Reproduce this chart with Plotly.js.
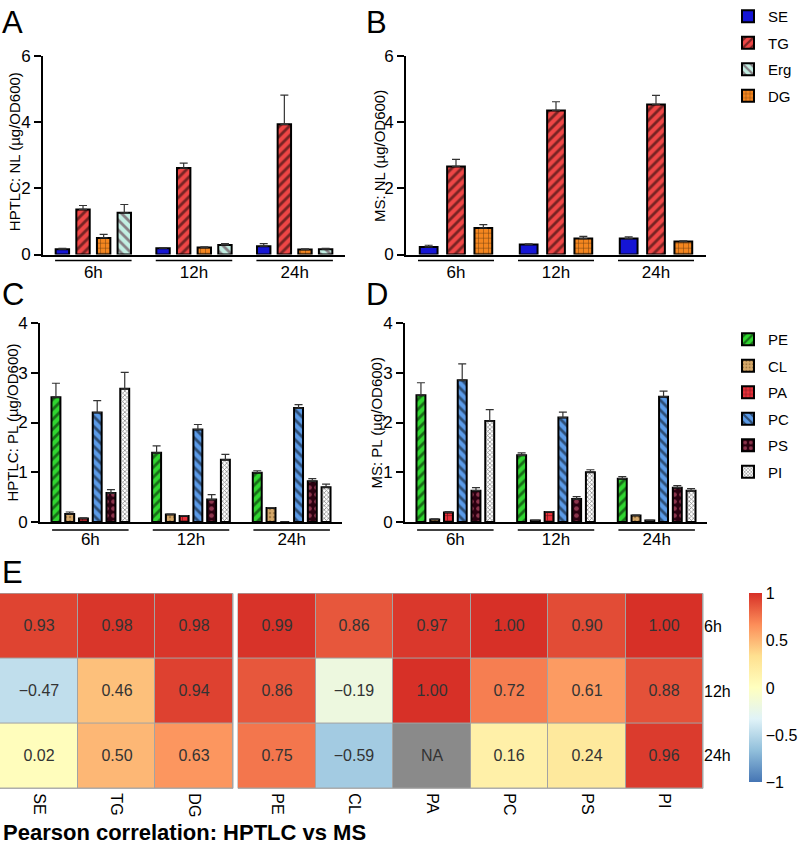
<!DOCTYPE html>
<html>
<head>
<meta charset="utf-8">
<script src="https://cdn.plot.ly/plotly-3.0.1.min.js"></script>
<style>
  html, body { margin: 0; padding: 0; background: #fff; }
  #chart { width: 800px; height: 849px; }
</style>
</head>
<body>
<div id="chart"></div>
<script>
// time points shared by every panel
var timepoints = ['6h', '12h', '24h'];

// A: neutral lipids by HPTLC (mean, sd)
var hptlcSE = [0.16, 0.19, 0.25],  hptlcSEerr = [0.03, 0.02, 0.08];
var hptlcTG = [1.36, 2.61, 3.93],  hptlcTGerr = [0.12, 0.15, 0.88];
var hptlcDG = [0.50, 0.21, 0.15],  hptlcDGerr = [0.11, 0.02, 0.02];
var hptlcErg = [1.26, 0.29, 0.16], hptlcErgerr = [0.25, 0.04, 0.03];

// B: neutral lipids by MS
var msSE = [0.23, 0.30, 0.48], msSEerr = [0.05, 0.02, 0.05];
var msTG = [2.66, 4.35, 4.53], msTGerr = [0.21, 0.26, 0.27];
var msDG = [0.80, 0.48, 0.39], msDGerr = [0.10, 0.07, 0.02];

// C: phospholipids by HPTLC
var hptlcPE = [2.51, 1.39, 0.99], hptlcPEerr = [0.28, 0.14, 0.04];
var hptlcCL = [0.16, 0.15, 0.28], hptlcCLerr = [0.04, 0.01, 0.01];
var hptlcPA = [0.07, 0.12, 0.00], hptlcPAerr = [0.01, 0.01, 0.00];
var hptlcPC = [2.20, 1.86, 2.29], hptlcPCerr = [0.24, 0.10, 0.07];
var hptlcPS = [0.58, 0.45, 0.82], hptlcPSerr = [0.07, 0.10, 0.05];
var hptlcPI = [2.68, 1.25, 0.70], hptlcPIerr = [0.33, 0.11, 0.06];

// D: phospholipids by MS
var msPE = [2.55, 1.34, 0.87], msPEerr = [0.25, 0.05, 0.04];
var msCL = [0.05, 0.03, 0.13], msCLerr = [0.01, 0.00, 0.01];
var msPA = [0.19, 0.20, 0.03], msPAerr = [0.02, 0.01, 0.00];
var msPC = [2.85, 2.10, 2.52], msPCerr = [0.33, 0.11, 0.11];
var msPS = [0.63, 0.46, 0.69], msPSerr = [0.06, 0.05, 0.04];
var msPI = [2.03, 1.00, 0.63], msPIerr = [0.23, 0.05, 0.04];

// E: Pearson correlation HPTLC vs MS, rows = timepoints
var nlLipids = ['SE', 'TG', 'DG'];
var plLipids = ['PE', 'CL', 'PA', 'PC', 'PS', 'PI'];
var corrNL = [
  [0.93, 0.98, 0.98],
  [-0.47, 0.46, 0.94],
  [0.02, 0.50, 0.63]
];
var corrPL = [
  [0.99, 0.86, 0.97, 1.00, 0.90, 1.00],
  [0.86, -0.19, 1.00, 0.72, 0.61, 0.88],
  [0.75, -0.59, null, 0.16, 0.24, 0.96]
];

// fill + hatch per lipid class
var styles = {
  SE:  { color: '#1515d5', pattern: { shape: '' } },
  TG:  { color: '#ee4646', pattern: { shape: '/', fgcolor: '#000', size: 7, solidity: 0.4, fillmode: 'overlay' } },
  Erg: { color: '#c2eee2', pattern: { shape: '\\', fgcolor: '#4a0f25', size: 7, solidity: 0.4, fillmode: 'overlay' } },
  DG:  { color: '#f5861f', pattern: { shape: '+', fgcolor: '#000', size: 5, solidity: 0.2, fillmode: 'overlay' } },
  PE:  { color: '#30d630', pattern: { shape: '/', fgcolor: '#000', size: 7, solidity: 0.4, fillmode: 'overlay' } },
  CL:  { color: '#d6a96a', pattern: { shape: '.', fgcolor: '#6a4a20', size: 4, solidity: 0.3, fillmode: 'overlay' } },
  PA:  { color: '#e8303a', pattern: { shape: '+', fgcolor: '#000', size: 5, solidity: 0.25, fillmode: 'overlay' } },
  PC:  { color: '#5b9be8', pattern: { shape: '\\', fgcolor: '#000', size: 7, solidity: 0.4, fillmode: 'overlay' } },
  PS:  { color: '#2a0010', pattern: { shape: '.', fgcolor: '#f06a8a', size: 7, solidity: 0.35, fillmode: 'overlay' } },
  PI:  { color: '#ffffff', pattern: { shape: 'x', fgcolor: '#000', size: 3, solidity: 0.4, fillmode: 'overlay' } }
};
var legendRank = { SE: 1, TG: 2, Erg: 3, DG: 4, PE: 1, CL: 2, PA: 3, PC: 4, PS: 5, PI: 6 };

function bar(name, y, err, xa, ya, legend, show) {
  return {
    type: 'bar', name: name, x: timepoints, y: y,
    xaxis: xa, yaxis: ya,
    legend: legend, showlegend: show, legendgroup: name, legendrank: legendRank[name],
    marker: { color: styles[name].color, pattern: styles[name].pattern, line: { color: '#000', width: 2 } },
    error_y: { type: 'data', symmetric: false, array: err, arrayminus: err.map(function () { return 0; }),
               color: '#333', thickness: 1.2, width: 4 },
    hoverinfo: 'name+y'
  };
}

var data = [
  bar('SE', hptlcSE, hptlcSEerr, 'x', 'y', 'legend', true),
  bar('TG', hptlcTG, hptlcTGerr, 'x', 'y', 'legend', true),
  bar('DG', hptlcDG, hptlcDGerr, 'x', 'y', 'legend', true),
  bar('Erg', hptlcErg, hptlcErgerr, 'x', 'y', 'legend', true),

  bar('SE', msSE, msSEerr, 'x2', 'y2', 'legend', false),
  bar('TG', msTG, msTGerr, 'x2', 'y2', 'legend', false),
  bar('DG', msDG, msDGerr, 'x2', 'y2', 'legend', false),

  bar('PE', hptlcPE, hptlcPEerr, 'x3', 'y3', 'legend2', true),
  bar('CL', hptlcCL, hptlcCLerr, 'x3', 'y3', 'legend2', true),
  bar('PA', hptlcPA, hptlcPAerr, 'x3', 'y3', 'legend2', true),
  bar('PC', hptlcPC, hptlcPCerr, 'x3', 'y3', 'legend2', true),
  bar('PS', hptlcPS, hptlcPSerr, 'x3', 'y3', 'legend2', true),
  bar('PI', hptlcPI, hptlcPIerr, 'x3', 'y3', 'legend2', true),

  bar('PE', msPE, msPEerr, 'x4', 'y4', 'legend2', false),
  bar('CL', msCL, msCLerr, 'x4', 'y4', 'legend2', false),
  bar('PA', msPA, msPAerr, 'x4', 'y4', 'legend2', false),
  bar('PC', msPC, msPCerr, 'x4', 'y4', 'legend2', false),
  bar('PS', msPS, msPSerr, 'x4', 'y4', 'legend2', false),
  bar('PI', msPI, msPIerr, 'x4', 'y4', 'legend2', false)
];

// heatmap (pheatmap default palette: reversed RdYlBu, 7 colours)
var rdylbu = ['#4575b4', '#91bfdb', '#e0f3f8', '#ffffbf', '#fee090', '#fc8d59', '#d73027'];
var colorscale = rdylbu.map(function (c, i) { return [i / (rdylbu.length - 1), c]; });

function fmt(v) { return v === null ? '' : v.toFixed(2).replace('-', '\u2212'); }
function cellText(z) { return z.map(function (r) { return r.map(fmt); }); }

data.push({
  type: 'heatmap', x: nlLipids, y: timepoints, z: corrNL, xaxis: 'x5', yaxis: 'y5',
  zmin: -1, zmax: 1, colorscale: colorscale, xgap: 1, ygap: 1,
  text: cellText(corrNL), texttemplate: '%{text}', textfont: { size: 16, color: '#333' },
  hoverinfo: 'x+y+z',
  colorbar: {
    x: 749 / 800, xanchor: 'left', xpad: 0, y: 1 - 687 / 849, yanchor: 'middle', ypad: 0,
    len: 190 / 849, thickness: 13, outlinewidth: 0, ticks: '',
    tickvals: [-1, -0.5, 0, 0.5, 1], ticktext: ['\u22121', '\u22120.5', '0', '0.5', '1'],
    tickfont: { size: 16 }
  }
});
data.push({
  type: 'heatmap', x: plLipids, y: timepoints, z: corrPL, xaxis: 'x6', yaxis: 'y5',
  zmin: -1, zmax: 1, colorscale: colorscale, xgap: 1, ygap: 1, showscale: false,
  text: cellText(corrPL), texttemplate: '%{text}', textfont: { size: 16, color: '#333' },
  hoverinfo: 'x+y+z'
});
// missing correlations drawn as grey "NA" cells
var naMask = corrPL.map(function (r) { return r.map(function (v) { return v === null ? 1 : null; }); });
data.push({
  type: 'heatmap', x: plLipids, y: timepoints, z: naMask, xaxis: 'x6', yaxis: 'y5',
  colorscale: [[0, '#8a8a8a'], [1, '#8a8a8a']], xgap: 1, ygap: 1, showscale: false,
  text: naMask.map(function (r) { return r.map(function (v) { return v ? 'NA' : ''; }); }),
  texttemplate: '%{text}', textfont: { size: 16, color: '#333' }, hoverinfo: 'skip'
});

// pixel helpers
function px(x) { return x / 800; }
function py(y) { return 1 - y / 849; }

function barX(x0, x1, anchor) {
  return {
    domain: [px(x0), px(x1)], anchor: anchor, type: 'category',
    showline: true, linecolor: '#000', linewidth: 2, ticks: '', showgrid: false, zeroline: false,
    tickfont: { size: 17 }, ticklabelstandoff: 1, fixedrange: true
  };
}
function barY(y0, y1, anchor, top, dtick) {
  return {
    domain: [py(y0), py(y1)], anchor: anchor, range: [0, top], dtick: dtick,
    showline: true, linecolor: '#000', linewidth: 2,
    ticks: 'outside', ticklen: 7, tickwidth: 2, tickcolor: '#000',
    showgrid: false, zeroline: false, tickfont: { size: 17 }, fixedrange: true
  };
}

// group underlines beneath each category
var shapes = [];
[['x', 'y', -0.03], ['x2', 'y2', -0.03], ['x3', 'y3', -0.04], ['x4', 'y4', -0.04]].forEach(function (p) {
  timepoints.forEach(function (t, i) {
    shapes.push({ type: 'line', xref: p[0], yref: p[1] + ' domain', x0: i - 0.38, x1: i + 0.38,
                  y0: p[2], y1: p[2], line: { color: '#000', width: 1.5 } });
  });
});
// grey cell borders behind the heatmaps
['x5', 'x6'].forEach(function (xa) {
  shapes.push({ type: 'rect', xref: xa + ' domain', yref: 'y5 domain', x0: 0, x1: 1, y0: 0, y1: 1,
                fillcolor: '#a3a3a3', line: { color: '#a3a3a3', width: 1 }, layer: 'below' });
});

function letter(t, x, y) {
  return { text: t, x: px(x), y: py(y), xref: 'paper', yref: 'paper', xanchor: 'left', yanchor: 'middle',
           showarrow: false, borderpad: 0, font: { size: 31 } };
}
// y-axis titles, set just left of the tick labels
function yTitle(t, x, y) {
  return { text: t, x: px(x), y: py(y), xref: 'paper', yref: 'paper', xanchor: 'center', yanchor: 'middle',
           textangle: -90, showarrow: false, borderpad: 0, font: { size: 15 } };
}

var layout = {
  width: 800, height: 849,
  margin: { l: 0, r: 0, t: 0, b: 0 },
  paper_bgcolor: '#fff', plot_bgcolor: '#fff',
  font: { family: 'Liberation Sans, Arial, sans-serif', color: '#000', size: 15 },
  barmode: 'group', bargap: 0.18, bargroupgap: 0.35,
  xaxis:  barX(43, 345, 'y'),
  yaxis:  barY(251, 51, 'x', 6, 2),
  xaxis2: barX(406, 706, 'y2'),
  yaxis2: barY(251, 51, 'x2', 6, 2),
  xaxis3: barX(40, 342, 'y3'),
  yaxis3: barY(520, 320, 'x3', 4, 1),
  xaxis4: barX(405, 707, 'y4'),
  yaxis4: barY(520, 320, 'x4', 4, 1),
  xaxis5: { domain: [px(0), px(233)], anchor: 'y5', type: 'category', ticks: '', showline: false,
            showgrid: false, zeroline: false, tickangle: 90, tickfont: { size: 16 },
            ticklabelstandoff: 4, fixedrange: true },
  xaxis6: { domain: [px(238), px(703)], anchor: 'y5', type: 'category', ticks: '', showline: false,
            showgrid: false, zeroline: false, tickangle: 90, tickfont: { size: 16 },
            ticklabelstandoff: 4, fixedrange: true },
  yaxis5: { domain: [py(788), py(592)], anchor: 'free', position: px(703), side: 'right',
            type: 'category', autorange: 'reversed', ticks: '', showline: false, showgrid: false,
            zeroline: false, tickfont: { size: 16 }, fixedrange: true },
  legend: { x: px(728), y: py(-5), xanchor: 'left', yanchor: 'top', font: { size: 15 },
            tracegroupgap: 4, bgcolor: 'rgba(0,0,0,0)' },
  legend2: { x: px(728), y: py(320), xanchor: 'left', yanchor: 'top', font: { size: 15 },
             tracegroupgap: 4, bgcolor: 'rgba(0,0,0,0)' },
  shapes: shapes,
  annotations: [
    letter('A', 1, 18), letter('B', 365, 18), letter('C', 1, 291), letter('D', 365, 291),
    letter('E', 1, 571),
    yTitle('HPTLC: NL (\u00b5g/OD600)', 14, 148),
    yTitle('MS: NL (\u00b5g/OD600)', 379, 152),
    yTitle('HPTLC: PL (\u00b5g/OD600)', 13, 420),
    yTitle('MS: PL (\u00b5g/OD600)', 377, 421),
    { text: '<b>Pearson correlation: HPTLC vs MS</b>', x: px(1), y: py(832), xref: 'paper', yref: 'paper',
      xanchor: 'left', yanchor: 'middle', showarrow: false, font: { size: 22 } }
  ]
};

Plotly.newPlot('chart', data, layout, { displayModeBar: false });
</script>
</body>
</html>
